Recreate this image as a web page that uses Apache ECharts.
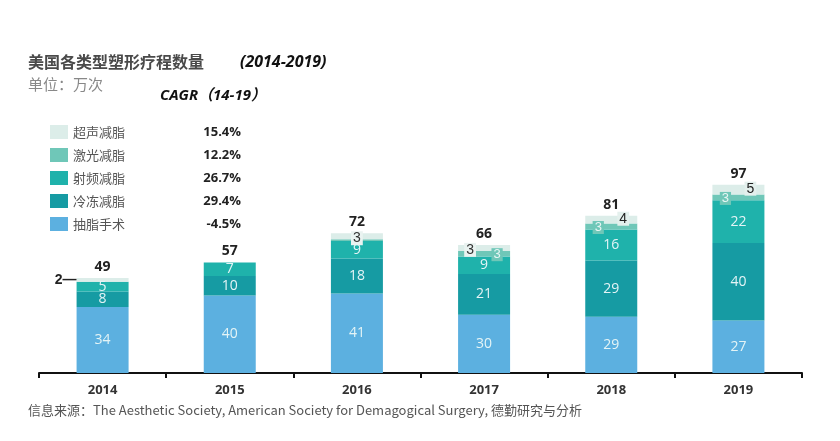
<!DOCTYPE html>
<html><head><meta charset="utf-8">
<script src="https://cdn.jsdelivr.net/npm/echarts@6/dist/echarts.min.js"></script>
<style>html,body{margin:0;padding:0;background:#fff}#c{width:840px;height:441px}</style>
</head><body><div id="c"></div>
<script>
const years = ['2014','2015','2016','2017','2018','2019'];
const liposuction = [34, 40, 41, 30, 29, 27];   // 抽脂手术
const cryo        = [8, 10, 18, 21, 29, 40];    // 冷冻减脂
const rf          = [5, 7, 9, 9, 16, 22];       // 射频减脂
const laser       = [0, 0, 1, 3, 3, 3];         // 激光减脂
const ultrasound  = [2, 0, 3, 3, 4, 5];         // 超声减脂
const totals      = [49, 57, 72, 66, 81, 97];
const seriesNames = ['超声减脂','激光减脂','射频减脂','冷冻减脂','抽脂手术'];
const cagr        = ['15.4%','12.2%','26.7%','29.4%','-4.5%'];

const colors = {
  '抽脂手术':'#5cb0e0', '冷冻减脂':'#169ba3', '射频减脂':'#1fb2ab',
  '激光减脂':'#6fc7b8', '超声减脂':'#dcede9'
};
const inLabel = {show:true, position:'inside', color:'#e4f4f6', fontSize:14, fontFamily:'Open Sans'};

function simpleData(vals){ return vals.map(v=>({value:v})); }

const laserData = laser.map((v,i)=>{
  const d = {value:v};
  if (i>=3) d.label = {show:true, position:'inside', offset:[i===3?13:-13,1], color:'#e8f6f4', fontSize:13,
      backgroundColor:'#6fc7b8', padding:[0,2], formatter:'{c}'};
  else d.label = {show:false};
  return d;
});
const usData = ultrasound.map((v,i)=>{
  const d = {value:v};
  if (i===0) d.label = {show:true, position:'left', distance:0, color:'#222', fontSize:14, fontWeight:'bold', formatter:'{c}—'};
  else if (i===2 || i===3) d.label = {show:true, position:'inside', offset:[i===3?-14:0,2], color:'#333', fontSize:14,
      backgroundColor:'#eaf3f1', padding:[0,2], formatter:'{c}'};
  else if (i>=4) d.label = {show:true, position:'inside', offset:[12,-1], color:'#222', fontSize:14,
      backgroundColor:'#e4f0ed', padding:[0,2], formatter:'{c}'};
  else d.label = {show:false};
  return d;
});

const chart = echarts.init(document.getElementById('c'));
const barW = 52;
chart.setOption({
  animation:false,
  grid:{left:39, right:38, top:179, bottom:68},
  xAxis:{type:'category', data:years,
    axisLine:{lineStyle:{color:'#111', width:2}},
    axisTick:{show:true, length:5, lineStyle:{color:'#111', width:2}},
    axisLabel:{color:'#333', fontSize:13, fontWeight:'bold', margin:11, fontFamily:'Open Sans'}},
  yAxis:{type:'value', min:0, max:100, show:false, splitLine:{show:false}},
  legend:{
    data:seriesNames, orient:'vertical', left:45, top:120, itemWidth:18, itemHeight:14, itemGap:9,
    icon:'rect',
    formatter:(n)=>'{n|'+n+'}{v|'+cagr[seriesNames.indexOf(n)]+'}',
    textStyle:{rich:{
      n:{width:126, color:'#555', fontSize:13, fontFamily:'Noto Sans CJK SC'},
      v:{width:42, align:'right', color:'#222', fontSize:13, fontWeight:'bold', fontFamily:'Open Sans'}
    }}
  },
  series:[
    {name:'抽脂手术', type:'bar', stack:'s', barWidth:barW, data:simpleData(liposuction),
     itemStyle:{color:colors['抽脂手术']}, label:inLabel},
    {name:'冷冻减脂', type:'bar', stack:'s', barWidth:barW, data:simpleData(cryo),
     itemStyle:{color:colors['冷冻减脂']}, label:Object.assign({}, inLabel, {formatter:p=>p.value>0?p.value:''})},
    {name:'射频减脂', type:'bar', stack:'s', barWidth:barW, data:simpleData(rf),
     itemStyle:{color:colors['射频减脂']}, label:Object.assign({}, inLabel, {formatter:p=>p.value>0?p.value:''})},
    {name:'激光减脂', type:'bar', stack:'s', barWidth:barW, data:laserData,
     itemStyle:{color:colors['激光减脂']}},
    {name:'超声减脂', type:'bar', stack:'s', barWidth:barW, data:usData,
     itemStyle:{color:colors['超声减脂']}},
    {name:'合计', type:'bar', stack:'s', barWidth:barW, data:years.map(()=>0),
     itemStyle:{color:'transparent'},
     label:{show:true, position:'top', distance:4, color:'#222', fontSize:14, fontWeight:'bold', fontFamily:'Open Sans',
       formatter:p=>totals[p.dataIndex]}}
  ],
  graphic:[
    {type:'text', left:28, top:54, style:{text:'美国各类型塑形疗程数量', fill:'#4a4a4a', font:'bold 16px "Noto Sans CJK SC"'}},
    {type:'text', left:240, top:54, style:{text:'(2014-2019)', fill:'#111', font:'italic bold 16px "Open Sans"'}},
    {type:'text', left:28, top:77, style:{text:'单位：万次', fill:'#888', font:'15px "Noto Sans CJK SC"'}},
    {type:'text', left:160, top:88, style:{text:'CAGR（14-19）', fill:'#111', font:'italic bold 15px "Open Sans", "Noto Sans CJK SC"'}},
    {type:'text', left:28, top:404, style:{text:'信息来源：The Aesthetic Society, American Society for Demagogical Surgery, 德勤研究与分析', fill:'#555', font:'13px "Noto Sans CJK SC"'}}
  ]
});
</script></body></html>
